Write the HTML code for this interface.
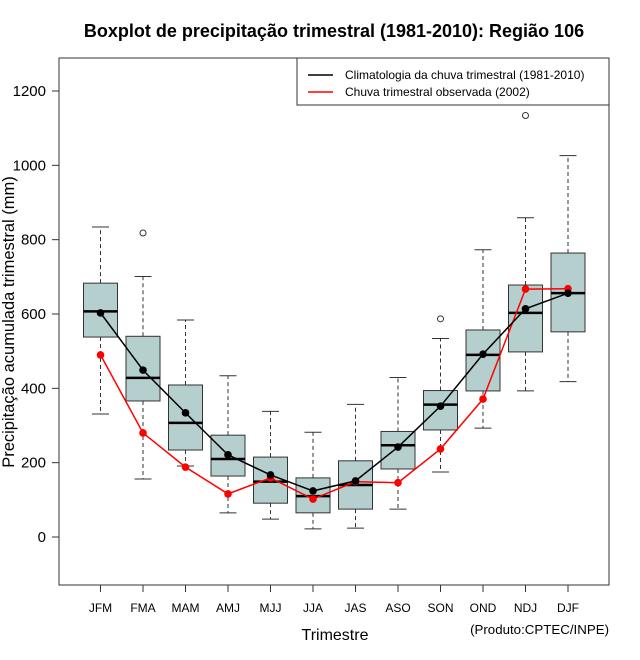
<!DOCTYPE html>
<html><head><meta charset="utf-8"><style>
body{margin:0;background:#fff}
svg{display:block;font-family:"Liberation Sans",sans-serif}
</style></head><body>
<svg id="chart" width="640" height="660" xmlns="http://www.w3.org/2000/svg">
<text x="334" y="37" text-anchor="middle" font-size="18" font-weight="bold">Boxplot de precipitação trimestral (1981-2010): Região 106</text>
<rect x="59" y="58" width="550" height="527" fill="none" stroke="#333" stroke-width="1"/>
<g id="yaxis"></g>
<g id="xaxis"></g>
<g id="boxes"></g>
<g id="lines"></g>
<text x="0" y="0" transform="translate(14,322) rotate(-90)" text-anchor="middle" font-size="16.5">Precipitação acumulada trimestral (mm)</text>
<text x="335" y="640" text-anchor="middle" font-size="16">Trimestre</text>
<text x="609" y="634" text-anchor="end" font-size="13.3">(Produto:CPTEC/INPE)</text>
<g>
<rect x="297" y="58" width="312" height="47" fill="#fff" stroke="#333"/>
<line x1="308" y1="75" x2="333" y2="75" stroke="#000" stroke-width="1.5"/>
<text x="345" y="79" font-size="12">Climatologia da chuva trimestral (1981-2010)</text>
<line x1="308" y1="92" x2="333" y2="92" stroke="#f00" stroke-width="1.5"/>
<text x="345" y="96" font-size="12">Chuva trimestral observada (2002)</text>
</g>
</svg>
<script>
const categories=["JFM","FMA","MAM","AMJ","MJJ","JJA","JAS","ASO","SON","OND","NDJ","DJF"];
const whiskerLow=[331,156,191,65,48,22,24,75,175,293,393,418];
const q1=[538,366,234,164,91,65,75,183,288,393,498,552];
const median=[607,428,307,210,149,110,140,247,356,490,603,656];
const q3=[683,540,409,274,215,159,205,284,394,557,678,764];
const whiskerHigh=[834,701,584,434,338,282,357,429,534,773,859,1026];
const outliers=[[],[818],[],[],[],[],[],[],[587],[],[1134],[]];
const climatology=[603,449,334,221,167,124,151,242,352,492,614,656];
const observed=[490,280,188,116,159,102,149,146,237,371,667,668];
const yTicks=[0,200,400,600,800,1000,1200];

const NS="http://www.w3.org/2000/svg";
function yS(v){return 537-v*0.37167;}
function xS(i){return 100.5+i*42.5;}
function mk(parent,tag,attrs){const e=document.createElementNS(NS,tag);for(const k in attrs)e.setAttribute(k,attrs[k]);parent.appendChild(e);return e;}

const ya=document.getElementById('yaxis');
yTicks.forEach(t=>{
  const l=mk(ya,'line',{x1:52,x2:59,y1:yS(t),y2:yS(t),stroke:'#333'});
  
  
  const tx=mk(ya,'text',{x:46,y:yS(t)+5,'text-anchor':'end','font-size':15});
  tx.textContent=t;
  
  
});
const xa=document.getElementById('xaxis');
categories.forEach((c,i)=>{
  const l=mk(xa,'line',{x1:xS(i),x2:xS(i),y1:585,y2:592,stroke:'#333'});
  
  
  const tx=mk(xa,'text',{x:xS(i),y:612,'text-anchor':'middle','font-size':12});
  tx.textContent=c;
  
  
});
const bx=document.getElementById('boxes');
categories.forEach((c,i)=>{
  const g=mk(bx,'g',{});
  
  
  const x=xS(i),w=17,cw=8.5;
  mk(g,'line',{x1:x,x2:x,y1:yS(q3[i]),y2:yS(whiskerHigh[i]),stroke:'#333','stroke-dasharray':'4,3'});
  mk(g,'line',{x1:x,x2:x,y1:yS(q1[i]),y2:yS(whiskerLow[i]),stroke:'#333','stroke-dasharray':'4,3'});
  mk(g,'line',{x1:x-cw,x2:x+cw,y1:yS(whiskerHigh[i]),y2:yS(whiskerHigh[i]),stroke:'#333'});
  mk(g,'line',{x1:x-cw,x2:x+cw,y1:yS(whiskerLow[i]),y2:yS(whiskerLow[i]),stroke:'#333'});
  mk(g,'rect',{x:x-w,y:yS(q3[i]),width:2*w,height:yS(q1[i])-yS(q3[i]),fill:'#b5cfcf',stroke:'#333'});
  mk(g,'line',{x1:x-w,x2:x+w,y1:yS(median[i]),y2:yS(median[i]),stroke:'#000','stroke-width':2.5});
  outliers[i].forEach(o=>{mk(g,'circle',{cx:x,cy:yS(o),r:3,fill:'none',stroke:'#333'});});
});
const ln=document.getElementById('lines');
function series(vals,color,name){
  const p=mk(ln,'polyline',{points:vals.map((v,i)=>xS(i)+','+yS(v)).join(' '),fill:'none',stroke:color,'stroke-width':1.5});
  
  
  vals.forEach((v,i)=>{
    const c=mk(ln,'circle',{cx:xS(i),cy:yS(v),r:3.8,fill:color});
    
    
  });
}
series(observed,'#f00','observed');
series(climatology,'#000','climatology');
</script>
</body></html>
